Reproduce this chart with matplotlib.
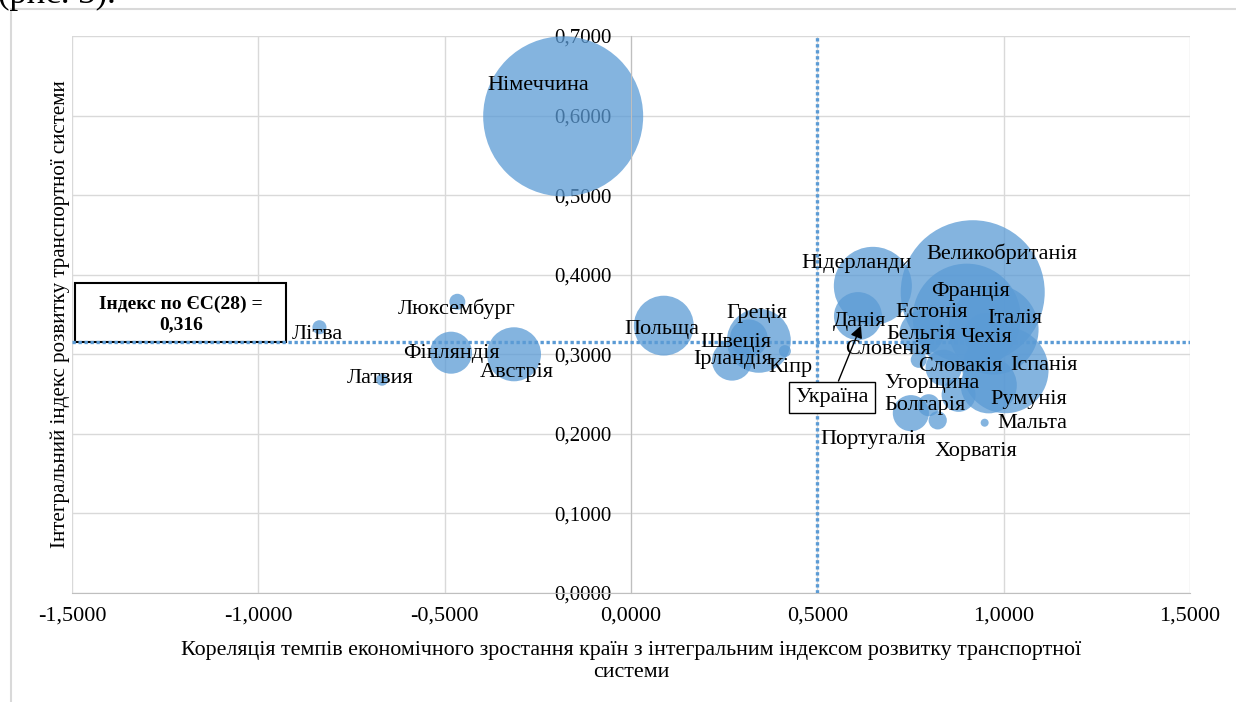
import matplotlib
matplotlib.use("Agg")
import matplotlib.pyplot as plt
import numpy as np
from matplotlib.patches import Rectangle
from matplotlib.lines import Line2D
from matplotlib.ticker import FuncFormatter

plt.rcParams['font.family'] = ['Liberation Serif', 'DejaVu Serif']

# data
countries = ['Німеччина', 'Великобританія', 'Франція', 'Італія', 'Іспанія', 'Нідерланди',
             'Польща', 'Греція', 'Швеція', 'Ірландія', 'Австрія', 'Фінляндія', 'Данія',
             'Бельгія', 'Чехія', 'Румунія', 'Португалія', 'Угорщина', 'Словакія',
             'Болгарія', 'Хорватія', 'Словенія', 'Літва', 'Люксембург', 'Латвия',
             'Естонія', 'Кіпр', 'Мальта']
correlation = [-0.182, 0.917, 0.901, 0.973, 1.005, 0.649,
               0.088, 0.343, 0.316, 0.271, -0.314, -0.483, 0.609,
               0.780, 0.954, 0.960, 0.751, 0.879, 0.839,
               0.799, 0.823, 0.772, -0.836, -0.466, -0.668,
               0.807, 0.413, 0.949]
index_value = [0.599, 0.378, 0.346, 0.331, 0.280, 0.386,
               0.336, 0.317, 0.320, 0.292, 0.300, 0.302, 0.348,
               0.327, 0.324, 0.261, 0.226, 0.249, 0.283,
               0.236, 0.217, 0.293, 0.334, 0.366, 0.268,
               0.354, 0.304, 0.214]
bubble_size = [100, 81, 45.6, 31.6, 28.9, 23.8,
               14, 16, 5.6, 6.25, 11.4, 6.9, 9,
               7.6, 7.6, 12.3, 5.1, 4.5, 5.1,
               1.9, 1.3, 1.0, 0.77, 1.0, 0.56,
               0.56, 0.56, 0.25]

eu_index = 0.316
threshold_x = 0.5
ukraine_x, ukraine_y = 0.617, 0.336

x_ticks = np.arange(-1.5, 1.51, 0.5)
y_ticks = np.arange(0, 0.71, 0.1)

# label offsets from bubble centre, in pixels (right, down)
label_offsets = {
    'Німеччина': (-25, -33), 'Великобританія': (29, -41), 'Франція': (4, -28),
    'Італія': (21, -13), 'Іспанія': (38, -7), 'Нідерланди': (-16, -24),
    'Польща': (-2, 2), 'Греція': (-2, -29), 'Швеція': (-13, 2), 'Ірландія': (1, -3),
    'Австрія': (3, 16), 'Фінляндія': (0, -1), 'Данія': (1, 3), 'Бельгія': (-1, 0),
    'Чехія': (0, 0), 'Румунія': (40, 12), 'Португалія': (-38, 24),
    'Угорщина': (-27, -13), 'Словакія': (17, -3), 'Болгарія': (-4, -2),
    'Хорватія': (38, 29), 'Словенія': (-31, -12), 'Літва': (-2, 5),
    'Люксембург': (-1, 5), 'Латвия': (-2, -3), 'Естонія': (0, -1),
    'Кіпр': (6, 14), 'Мальта': (48, -1),
}

blue = '#5B9BD5'
grid_c = '#D9D9D9'

fig = plt.figure(figsize=(12.36, 7.02), dpi=100)
ax = fig.add_axes([72/1236, 109/702, 1118/1236, 557/702])

# bubbles, biggest first
order = np.argsort(bubble_size)[::-1]
xs = np.array(correlation)[order]
ys = np.array(index_value)[order]
ss = np.array(bubble_size)[order] * 132.7
ax.scatter(xs, ys, s=ss, color=blue, alpha=0.75, edgecolors='none', zorder=2)

for name, x, y in zip(countries, correlation, index_value):
    dx, dy = label_offsets[name]
    ax.annotate(name, (x, y), xytext=(dx * 0.72, -dy * 0.72 - 1.5), textcoords='offset points',
                ha='center', va='center', fontsize=16, color='black', zorder=5)

# reference lines
ax.axhline(eu_index, color=blue, lw=2.4, dashes=(1, 0.8), zorder=4)
ax.axvline(threshold_x, color=blue, lw=2.4, dashes=(1, 0.8), zorder=4)

# EU index box
ax.add_patch(Rectangle((-1.491, eu_index), 0.566, 0.074, fill=True, fc='white',
                       ec='black', lw=1.5, zorder=3))
ax.text(-1.208, eu_index + 0.034, 'Індекс по ЄС(28) =\n0,316', ha='center', va='center',
        fontsize=14, fontweight='bold', linespacing=1.2, zorder=6)

# Ukraine
ax.annotate('Україна', (ukraine_x, ukraine_y), xytext=(0.539, 0.246), textcoords='data',
            ha='center', va='center', fontsize=16, zorder=6,
            bbox=dict(boxstyle='square,pad=0.28', fc='white', ec='black', lw=1),
            arrowprops=dict(arrowstyle='-|>', color='black', lw=1, mutation_scale=18,
                            shrinkA=0, shrinkB=0))

ax.set_xlim(-1.5, 1.5)
ax.set_ylim(0, 0.7)
ax.set_xticks(x_ticks)
ax.set_yticks(y_ticks)
fmt = FuncFormatter(lambda v, p: f'{v:.4f}'.replace('.', ',').replace('-0,0000', '0,0000'))
ax.xaxis.set_major_formatter(fmt)
ax.yaxis.set_major_formatter(fmt)
ax.grid(True, color=grid_c, lw=1)
ax.set_axisbelow(True)
for s in ['top', 'right']:
    ax.spines[s].set_visible(False)
ax.spines['left'].set_position(('data', 0))
ax.spines['left'].set_color('#BFBFBF')
ax.spines['bottom'].set_color('#BFBFBF')
ax.tick_params(axis='y', length=0, pad=14, labelsize=15, labelcolor='black')
ax.tick_params(axis='x', length=0, pad=10, labelsize=16, labelcolor='black')

ax.set_xlabel('Кореляція темпів економічного зростання країн з інтегральним індексом розвитку транспортної\nсистеми',
              fontsize=15.8, labelpad=11, color='black', linespacing=1.18)
fig.text(60/1236, 1 - 314/702, 'Інтегральний індекс розвитку транспортної системи',
         rotation=90, ha='center', va='center', fontsize=15.1, color='black')

# chart border and cut-off caption above
fig.add_artist(Line2D([11/1236, 11/1236], [0, 1 - 9/702], color=grid_c, lw=1.5))
fig.add_artist(Line2D([11/1236, 1], [1 - 9/702, 1 - 9/702], color=grid_c, lw=1.5))
fig.text(-2/1236, 1 - 3/702, '(рис. 3).', ha='left', va='baseline', fontsize=25)

fig.savefig('out.png', dpi=100)
